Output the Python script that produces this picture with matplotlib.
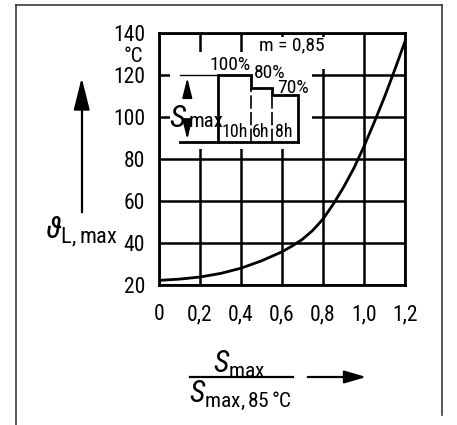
import matplotlib
matplotlib.use("Agg")
import matplotlib.pyplot as plt
from matplotlib import font_manager as fm
from matplotlib.patches import Rectangle
from matplotlib.lines import Line2D

# Curve: load ratio vs. max. winding temperature
load_ratio = [0, 0.1, 0.2, 0.3, 0.4, 0.5, 0.6, 0.65, 0.7, 0.75, 0.8, 0.85,
              0.9, 0.95, 1.0, 1.05, 1.1, 1.15, 1.2]
theta_max = [22.2, 22.8, 23.8, 25.5, 28.0, 31.5, 35.8, 38.6, 41.8, 46.0, 51.4,
             58.5, 66.5, 75.5, 86.0, 97.5, 109.5, 122.5, 136.0]

x_ticks = [0, 0.2, 0.4, 0.6, 0.8, 1.0, 1.2]
x_labels = ["0", "0,2", "0,4", "0,6", "0,8", "1,0", "1,2"]
y_ticks = [20, 40, 60, 80, 100, 120, 140]

# Daily load profile shown in the inset
load_pct = [100, 80, 70]
load_hours = [10, 6, 8]

# look for a narrow sans face, as the original lettering is condensed
fonts = fm.fontManager.ttflist
narrow = None
for f in fonts:
    if f.name in ("Liberation Sans Narrow", "DejaVu Sans Condensed", "Roboto Condensed",
                  "Open Sans Condensed", "Noto Sans Condensed"):
        narrow = (f.name, "normal")
        break
if narrow is None:
    for f in fonts:
        if f.name in ("DejaVu Sans", "Noto Sans", "Roboto", "Open Sans") and \
                f.stretch in ("condensed", "semi-condensed", 500, 600, 700, 300, 400) and \
                f.stretch not in ("normal", 500):
            narrow = (f.name, f.stretch)
            break
if narrow is None:
    FONT, STRETCH, SCALE = "DejaVu Sans", "normal", 0.8
else:
    FONT, STRETCH, SCALE = narrow[0], narrow[1], 1.0

plt.rcParams.update(
    {
        "font.family": [FONT, "DejaVu Sans"],
        "font.stretch": STRETCH,
        "mathtext.fontset": "custom",
        "mathtext.rm": FONT,
        "mathtext.it": FONT + ":italic",
        "mathtext.fallback": "stixsans",
        "text.color": "black",
    }
)

fig = plt.figure(figsize=(4.57, 4.25), dpi=100)
W, H = 457, 425


def fx(px):
    return px / W


def fy(py):
    return 1 - py / H


ax = fig.add_axes([fx(159), fy(285), fx(405) - fx(159), fy(33) - fy(285)])
ax.set_xlim(0, 1.2)
ax.set_ylim(20, 140)
ax.set_xticks(x_ticks)
ax.set_xticklabels(x_labels)
ax.set_yticks(y_ticks)
ax.set_axisbelow(True)
ax.grid(True, color="black", lw=1.8)
ax.tick_params(length=0, labelsize=15.5 * SCALE, pad=10)
ax.tick_params(axis="x", pad=14)
for s in ax.spines.values():
    s.set_linewidth(2.0)

# white areas where the grid is interrupted
ax.add_patch(Rectangle((0.054, 85), 0.69, 46, fc="white", ec="none", zorder=1))
ax.add_patch(Rectangle((0.5, 123), 0.31, 15, fc="white", ec="none", zorder=1))

ax.plot(load_ratio, theta_max, color="black", lw=2.0, zorder=3)

# inset: load profile
base, top = 88, 120
x0 = 0.288
hscale = 0.0163
xs = [x0]
for h in load_hours:
    xs.append(xs[-1] + h * hscale)
levels = [base + p / 100 * (top - base) for p in load_pct]
step_x = [x0, x0]
step_y = [base, levels[0]]
for i, lv in enumerate(levels):
    step_x += [xs[i], xs[i + 1]]
    step_y += [lv, lv]
step_x += [xs[-1]]
step_y += [base]
ax.plot(step_x, step_y, color="black", lw=2.0, zorder=3, solid_joinstyle="miter")
ax.plot([0.102, xs[-1]], [base, base], color="black", lw=2.0, zorder=3)
ax.plot([0.102, x0], [top, top], color="black", lw=1.0, zorder=3)
for i in (1, 2):
    ax.plot([xs[i], xs[i]], [base, levels[i]], color="black", lw=1.2,
            ls=(0, (8, 2)), zorder=3)

# double arrow S_max
head = "-|>,head_length=1.2,head_width=0.3"
ax.annotate("", xy=(0.138, top), xytext=(0.138, 109),
            arrowprops=dict(arrowstyle=head, color="black", lw=1.3, mutation_scale=10))
ax.annotate("", xy=(0.138, base), xytext=(0.138, 95.5),
            arrowprops=dict(arrowstyle=head, color="black", lw=1.3, mutation_scale=10))
ax.text(0.128, 95.3, "S", fontsize=23 * SCALE, style="italic", ha="right",
        va="baseline", zorder=4)
ax.text(0.146, 95.3, "max", fontsize=15 * SCALE, ha="left", va="baseline", zorder=4)

ax.text(0.346, 125, f"{load_pct[0]}%", fontsize=14 * SCALE, ha="center", va="center")
ax.text(0.540, 121, f"{load_pct[1]}%", fontsize=14 * SCALE, ha="center", va="center")
ax.text(0.652, 114, f"{load_pct[2]}%", fontsize=14 * SCALE, ha="center", va="center")
for cx, h in zip([0.370, 0.496, 0.609], load_hours):
    ax.text(cx, 93, f"{h}h", fontsize=13 * SCALE, ha="center", va="center")
ax.text(0.649, 134, "m = 0,85", fontsize=14 * SCALE, ha="center", va="center")

# degree unit below 140
fig.text(fx(143), fy(57), "°C", fontsize=15 * SCALE, ha="right", va="center")

# y label and arrow
fig.text(fx(45), fy(232), r"$\vartheta_{\mathrm{L,max}}$", fontsize=23 * SCALE,
         ha="left", va="center")
fig.add_artist(Line2D([fx(81.7)] * 2, [fy(212), fy(95)], color="black", lw=1.6))
ax.annotate("", xy=(fx(81.7), fy(75)), xytext=(fx(81.7), fy(100)),
            xycoords="figure fraction",
            arrowprops=dict(arrowstyle="-|>,head_length=1.4,head_width=0.35",
                            color="black", lw=1.6, mutation_scale=14))

# x label as fraction with arrow
fig.text(fx(239), fy(364), r"$S_{\mathrm{max}}$", fontsize=22 * SCALE,
         ha="center", va="center")
fig.add_artist(Line2D([fx(190), fx(293)], [fy(377), fy(377)], color="black", lw=1.6))
fig.text(fx(240), fy(395), r"$S_{\mathrm{max,85\,°C}}$", fontsize=22 * SCALE,
         ha="center", va="center")
ax.annotate("", xy=(fx(369), fy(377)), xytext=(fx(305), fy(377)),
            xycoords="figure fraction",
            arrowprops=dict(arrowstyle="-|>,head_length=1.2,head_width=0.35",
                            color="black", lw=1.6, mutation_scale=11))

# outer frame
fc = "#3a3a3a"
fig.add_artist(Line2D([fx(16), fx(16)], [0, fy(5)], color=fc, lw=1.2))
fig.add_artist(Line2D([fx(16), fx(442)], [fy(5), fy(5)], color=fc, lw=1.2))
fig.add_artist(Line2D([fx(442), fx(442)], [fy(5), fy(415)], color=fc, lw=1.2))

fig.savefig("out.png", dpi=100, facecolor="white")
